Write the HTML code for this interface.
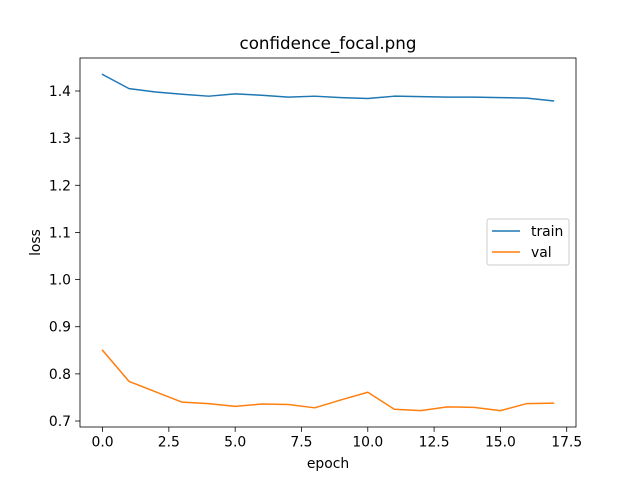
<!DOCTYPE html>
<html><head><meta charset="utf-8"><style>
body{margin:0;background:#fff}
svg text{font-family:"DejaVu Sans","Liberation Sans",sans-serif;fill:#000}
</style></head><body>
<svg id="chart" width="640" height="480" xmlns="http://www.w3.org/2000/svg">
<rect width="640" height="480" fill="#fff"/>
<text x="328" y="49" font-size="16.7" text-anchor="middle">confidence_focal.png</text>
<g id="plot"></g>
<rect x="80" y="58" width="496" height="369" fill="none" stroke="#000" stroke-width="0.8"/>
<text x="328" y="468" font-size="13.9" text-anchor="middle">epoch</text>
<text x="0" y="0" font-size="13.9" text-anchor="middle" transform="translate(40,242.5) rotate(-90)">loss</text>
<g>
<rect x="487" y="219" width="82" height="46" rx="2" fill="#fff" fill-opacity="0.8" stroke="#ccc" stroke-width="1"/>
<line x1="492" y1="231" x2="520" y2="231" stroke="#1f77b4" stroke-width="1.5"/>
<text x="531" y="236" font-size="13.9">train</text>
<line x1="492" y1="252" x2="520" y2="252" stroke="#ff7f0e" stroke-width="1.5"/>
<text x="531" y="257" font-size="13.9">val</text>
</g>
</svg>
<script>
const epochs=[0,1,2,3,4,5,6,7,8,9,10,11,12,13,14,15,16,17];
const trainLoss=[1.435,1.405,1.398,1.393,1.389,1.394,1.391,1.387,1.389,1.386,1.384,1.389,1.388,1.387,1.387,1.386,1.385,1.379];
const valLoss=[0.850,0.784,0.762,0.740,0.737,0.731,0.736,0.735,0.728,0.745,0.761,0.725,0.722,0.730,0.729,0.722,0.737,0.738];
const xTicks=[0,2.5,5,7.5,10,12.5,15,17.5];
const xTickLabels=["0.0","2.5","5.0","7.5","10.0","12.5","15.0","17.5"];
const yTicks=[0.7,0.8,0.9,1.0,1.1,1.2,1.3,1.4];
const yTickLabels=["0.7","0.8","0.9","1.0","1.1","1.2","1.3","1.4"];
const NS="http://www.w3.org/2000/svg";
const L=80,R=576,T=58,B=427;
const xmin=-0.85,xmax=17.85;
const ymin=0.6873,ymax=1.470;
const sx=v=>L+(v-xmin)/(xmax-xmin)*(R-L);
const sy=v=>B-(v-ymin)/(ymax-ymin)*(B-T);
const g=document.getElementById('plot');
function mk(t,a){const e=document.createElementNS(NS,t);for(const k in a)e.setAttribute(k,a[k]);g.appendChild(e);return e;}
xTicks.forEach((v,i)=>{
 const l=mk('line',{x1:sx(v),x2:sx(v),y1:B,y2:B+4.9,stroke:'#000','stroke-width':0.8});
 
 
 const t=mk('text',{x:sx(v),y:B+19.5,'font-size':13.9,'text-anchor':'middle'});
 t.textContent=xTickLabels[i];
 
 
});
yTicks.forEach((v,i)=>{
 const l=mk('line',{x1:L-4.9,x2:L,y1:sy(v),y2:sy(v),stroke:'#000','stroke-width':0.8});
 
 
 const t=mk('text',{x:L-9,y:sy(v)+5,'font-size':13.9,'text-anchor':'end'});
 t.textContent=yTickLabels[i];
 
 
});
function line(vals,color,name){
 const p=mk('polyline',{points:vals.map((v,i)=>sx(epochs[i])+','+sy(v)).join(' '),fill:'none',stroke:color,'stroke-width':1.5,'stroke-linejoin':'round','stroke-linecap':'square'});
 
 
}
line(trainLoss,'#1f77b4','train-line');
line(valLoss,'#ff7f0e','val-line');
</script>
</body></html>
